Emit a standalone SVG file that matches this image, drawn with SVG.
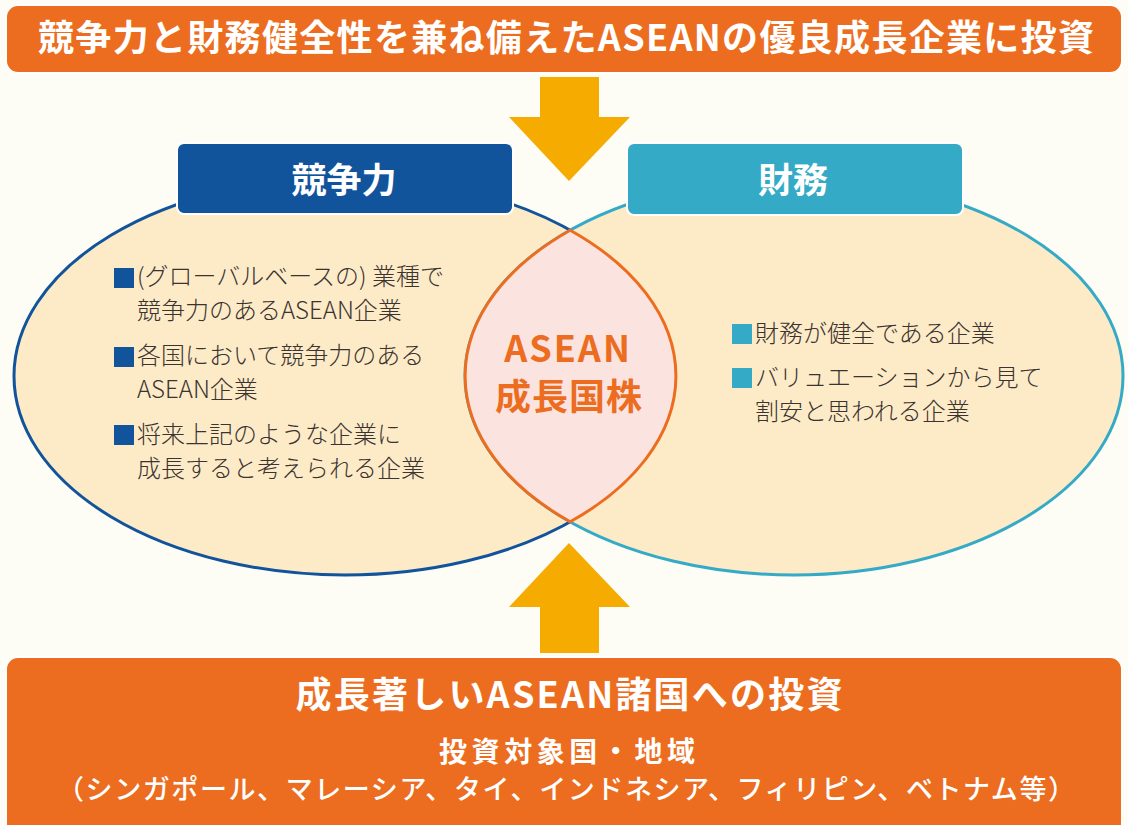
<svg xmlns="http://www.w3.org/2000/svg" width="1128" height="825" viewBox="0 0 1128 825">
<style>
.jp{font-family:"Noto Sans CJK JP","Noto Sans",sans-serif}
.w{fill:#ffffff;font-weight:bold}
.body{fill:#3b3330;font-size:24px;font-weight:300}
.arrow{fill:#f6ab00}
.banner{fill:#ec6d1f;stroke:#ffffff;stroke-width:2}
</style>
<rect width="1128" height="825" fill="#fdfcf5"/>
<g id="top-banner">
<rect class="banner" x="6" y="5" width="1116" height="68" rx="12"/>
<text class="jp w" x="566" y="51" font-size="36" text-anchor="middle" textLength="1056" lengthAdjust="spacing">競争力と財務健全性を兼ね備えたASEANの優良成長企業に投資</text>
</g>
<g id="ellipses">
<ellipse id="left-ellipse" cx="345" cy="376" rx="331" ry="199" fill="#fdebc8" stroke="#12549c" stroke-width="3"/>
<ellipse id="right-ellipse" cx="794" cy="376" rx="329" ry="199" fill="#fdebc8" stroke="#35aac6" stroke-width="3"/>
</g>
<g id="lens">
<path d="M570.2,230.2 A331,199 0 0 1 570.2,521.8 A329,199 0 0 1 570.2,230.2 Z" fill="#fbe4df" stroke="#ec6d1f" stroke-width="3"/>
<text class="jp" x="568" y="362" font-size="36" font-weight="bold" fill="#ec6d1f" text-anchor="middle" letter-spacing="2">ASEAN</text>
<text class="jp" x="569" y="410" font-size="36" font-weight="bold" fill="#ec6d1f" text-anchor="middle" letter-spacing="1">成長国株</text>
</g>
<g id="connectors">
<path class="arrow" d="M540,77 H599 V117 H630 L569,181 L509,117 H540 Z"/>
<path class="arrow" d="M569,543 L630,607 H599 V653 H540 V607 H509 Z"/>
</g>
<g id="header-left">
<rect x="177" y="143" width="336" height="71" rx="7" fill="#12549c" stroke="#ffffff" stroke-width="2"/>
<text class="jp w" x="344" y="193" font-size="35" text-anchor="middle">競争力</text>
</g>
<g id="header-right">
<rect x="627" y="143" width="336" height="72" rx="7" fill="#35aac6" stroke="#ffffff" stroke-width="2"/>
<text class="jp w" x="793" y="193" font-size="35" text-anchor="middle">財務</text>
</g>
<g id="left-text">
<rect x="114" y="268" width="20" height="20" fill="#12549c"/>
<text class="jp body" x="137" y="285">(グローバルベースの) 業種で</text>
<text class="jp body" x="137" y="319">競争力のあるASEAN企業</text>
<rect x="114" y="347" width="20" height="20" fill="#12549c"/>
<text class="jp body" x="137" y="364">各国において競争力のある</text>
<text class="jp body" x="137" y="398">ASEAN企業</text>
<rect x="114" y="425" width="20" height="20" fill="#12549c"/>
<text class="jp body" x="137" y="443">将来上記のような企業に</text>
<text class="jp body" x="137" y="477">成長すると考えられる企業</text>
</g>
<g id="right-text">
<rect x="732" y="324" width="20" height="20" fill="#35aac6"/>
<text class="jp body" x="755" y="342">財務が健全である企業</text>
<rect x="732" y="368" width="20" height="20" fill="#35aac6"/>
<text class="jp body" x="755" y="386">バリュエーションから見て</text>
<text class="jp body" x="755" y="420">割安と思われる企業</text>
</g>
<g id="bottom-banner">
<rect class="banner" x="6" y="657" width="1116" height="180" rx="12"/>
<text class="jp w" x="569" y="708" font-size="36" text-anchor="middle" textLength="547" lengthAdjust="spacing">成長著しいASEAN諸国への投資</text>
<text class="jp w" x="567" y="762" font-size="28" text-anchor="middle" textLength="256" lengthAdjust="spacing">投資対象国・地域</text>
<text class="jp" x="566" y="799" font-size="27" fill="#ffffff" font-weight="500" text-anchor="middle" textLength="1018" lengthAdjust="spacing">（シンガポール、マレーシア、タイ、インドネシア、フィリピン、ベトナム等）</text>
</g>
</svg>
